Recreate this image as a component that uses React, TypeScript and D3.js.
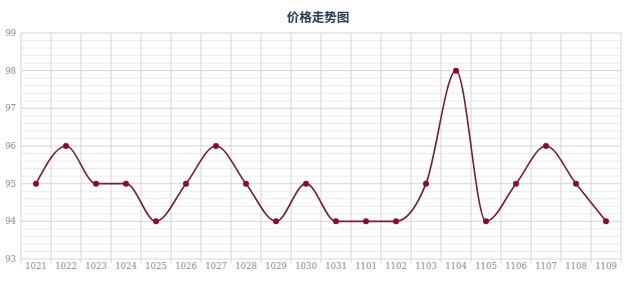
import { scaleLinear, scaleBand, line as d3line, curveMonotoneX, range } from "d3";

const categories = [
  "1021", "1022", "1023", "1024", "1025", "1026", "1027", "1028", "1029", "1030",
  "1031", "1101", "1102", "1103", "1104", "1105", "1106", "1107", "1108", "1109",
];
const prices = [95, 96, 95, 95, 94, 95, 96, 95, 94, 95, 94, 94, 94, 95, 98, 94, 95, 96, 95, 94];
const yTicks = [93, 94, 95, 96, 97, 98, 99];
const title = "价格走势图";

const W = 640;
const H = 281;
const m = { top: 33, right: 19, bottom: 22, left: 21 };

export default function App() {
  const x = scaleBand<string>()
    .domain(categories)
    .range([m.left, W - m.right]);
  const y = scaleLinear()
    .domain([93, 99])
    .range([H - m.bottom, m.top]);

  const pts = categories.map((c, i) => ({ c, v: prices[i] }));
  const path = d3line<(typeof pts)[number]>()
    .x((d) => (x(d.c) ?? 0) + x.bandwidth() / 2)
    .y((d) => y(d.v))
    .curve(curveMonotoneX)(pts);

  // minor lines every 0.2
  const minor = range(93, 99, 0.2).filter((v) => Math.abs(v - Math.round(v)) > 0.01);

  return (
    <svg
      width={W}
      height={H}
      style={{ position: "absolute", left: 0, top: 0, background: "#fff" }}
      fontFamily="'DejaVu Serif', serif"
    >
      <text
        x={318}
        y={22}
        textAnchor="middle"
        fontSize={12.5}
        fontWeight="bold"
        fill="#2b3d55"
        fontFamily="'Noto Sans CJK SC', sans-serif"
      >
        {title}
      </text>

      {/* minor grid */}
      {minor.map((v, i) => (
        <line key={"mn" + i} x1={m.left} x2={W - m.right} y1={y(v)} y2={y(v)} stroke="#ebebeb" strokeWidth={1} />
      ))}
      {/* vertical grid, with a small tick below the axis */}
      {categories.map((c) => (
        <line key={"v" + c} x1={x(c)} x2={x(c)} y1={m.top} y2={H - m.bottom + 4} stroke="#d4d4d4" strokeWidth={1} />
      ))}
      <line x1={W - m.right} x2={W - m.right} y1={m.top} y2={H - m.bottom + 4} stroke="#d4d4d4" />
      {/* major grid */}
      {yTicks.map((t) => (
        <line key={"mj" + t} x1={m.left} x2={W - m.right} y1={y(t)} y2={y(t)} stroke="#d6d6d6" strokeWidth={1} />
      ))}

      {yTicks.map((t) => (
        <text key={"yl" + t} x={16} y={y(t) + 3} textAnchor="end" fontSize={8.5} fill="#888">
          {t}
        </text>
      ))}
      {categories.map((c) => (
        <text
          key={"xl" + c}
          x={(x(c) ?? 0) + x.bandwidth() / 2}
          y={269}
          textAnchor="middle"
          fontSize={8.5}
          fill="#888"
        >
          {c}
        </text>
      ))}

      <path d={path ?? ""} fill="none" stroke="#7a1a3c" strokeWidth={1.6} />
      {pts.map((d) => (
        <circle
          key={"p" + d.c}
          cx={(x(d.c) ?? 0) + x.bandwidth() / 2}
          cy={y(d.v)}
          r={3}
          fill="#8c0a38"
        />
      ))}
    </svg>
  );
}
